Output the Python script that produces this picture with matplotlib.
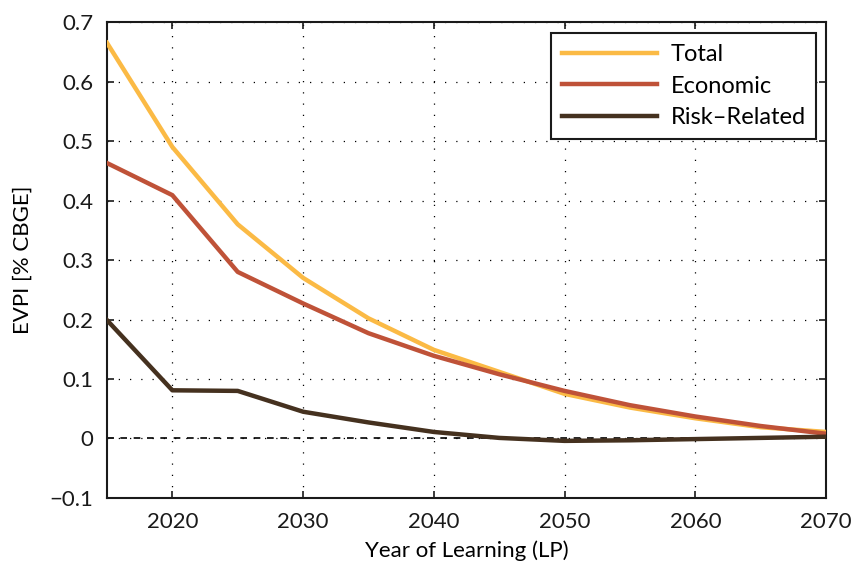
import matplotlib
matplotlib.use('Agg')
import matplotlib.pyplot as plt
from matplotlib.ticker import FuncFormatter

plt.rcParams['font.family'] = ['Lato', 'DejaVu Sans']

# values
years = [2015, 2020, 2025, 2030, 2035, 2040, 2045, 2050, 2055, 2060, 2065, 2070]
total = [0.665, 0.490, 0.360, 0.270, 0.202, 0.149, 0.112, 0.075, 0.052, 0.034, 0.019, 0.011]
economic = [0.463, 0.409, 0.280, 0.227, 0.177, 0.139, 0.108, 0.080, 0.056, 0.037, 0.021, 0.008]
risk = [0.199, 0.081, 0.080, 0.045, 0.027, 0.011, 0.001, -0.004, -0.003, -0.001, 0.001, 0.003]

fig = plt.figure(figsize=(8.51, 5.65), dpi=100)
ax = fig.add_axes([0.1257, 0.1186, 0.845, 0.8424])

ax.axhline(0, color='black', linestyle=(0, (4, 4)), linewidth=1.2, zorder=1)
ax.plot(years, total, color='#FBBA45', linewidth=3.2, label='Total', zorder=3)
ax.plot(years, economic, color='#BF5238', linewidth=3.2, label='Economic', zorder=4)
ax.plot(years, risk, color='#45311F', linewidth=3.2, label='Risk\u2013Related', zorder=5)

ax.set_xlim(2015, 2070)
ax.set_ylim(-0.1, 0.7)
ax.set_xticks([2020, 2030, 2040, 2050, 2060, 2070])
ax.set_yticks([-0.1, 0, 0.1, 0.2, 0.3, 0.4, 0.5, 0.6, 0.7])


def fmt(v, pos):
    if abs(v) < 1e-9:
        return '0'
    return ('%.1f' % v).replace('-', '\u2212')


ax.yaxis.set_major_formatter(FuncFormatter(fmt))
ax.grid(True, color='black', linestyle=(0, (1, 8)), linewidth=0.9)
ax.tick_params(direction='in', length=5, width=1.2, top=True, right=True,
               labelsize=16, colors='#1a1a1a', pad=10)
for s in ax.spines.values():
    s.set_linewidth(1.5)
    s.set_color('#1a1a1a')

ax.set_xlabel('Year of Learning (LP)', fontsize=16, labelpad=6)
ax.set_ylabel('EVPI [% CBGE]', fontsize=16, labelpad=12)

leg = ax.legend(loc='upper right', fontsize=17, fancybox=False, framealpha=1,
                edgecolor='#1a1a1a', handlelength=4.0, borderpad=0.45,
                labelspacing=0.45, handletextpad=0.6,
                bbox_to_anchor=(1.003, 1.001))
leg.get_frame().set_linewidth(1.5)

fig.savefig('out.png', dpi=100)
